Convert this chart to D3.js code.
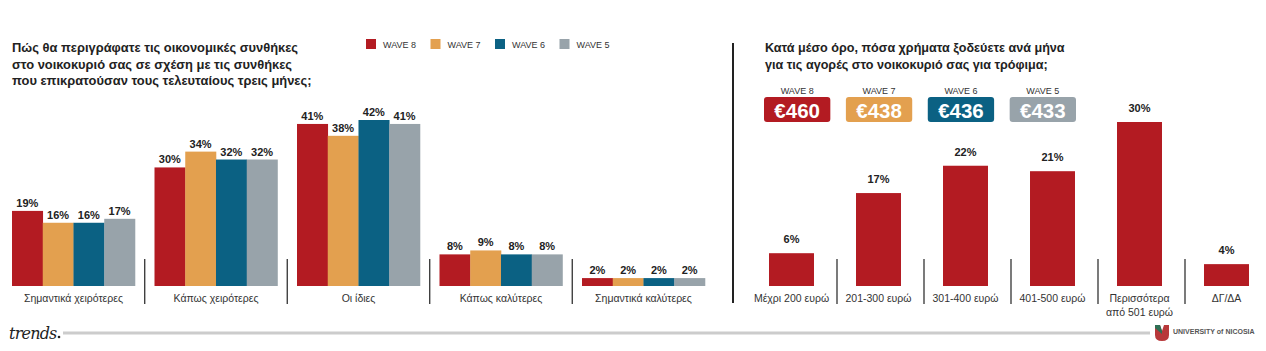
<!DOCTYPE html>
<html><head><meta charset="utf-8">
<script src="https://cdn.jsdelivr.net/npm/d3@7"></script>
<style>
html,body{margin:0;padding:0;background:#fff;}
svg{display:block;font-family:"Liberation Sans",Arial,sans-serif;}
</style></head>
<body>
<svg id="c" width="1266" height="351"></svg>
<script>
// ---- data ----
const leftTitle = ["Πώς θα περιγράφατε τις οικονομικές συνθήκες","στο νοικοκυριό σας σε σχέση με τις συνθήκες","που επικρατούσαν τους τελευταίους τρεις μήνες;"];
const rightTitle = ["Κατά μέσο όρο, πόσα χρήματα ξοδεύετε ανά μήνα","για τις αγορές στο νοικοκυριό σας για τρόφιμα;"];
const waves = ["WAVE 8","WAVE 7","WAVE 6","WAVE 5"];
const waveColors = ["#B31B22","#E3A04F","#0B6183","#98A3AA"];
const conditionCats = ["Σημαντικά χειρότερες","Κάπως χειρότερες","Οι ίδιες","Κάπως καλύτερες","Σημαντικά καλύτερες"];
const wave8 = [19,30,41,8,2];
const wave7 = [16,34,38,9,2];
const wave6 = [16,32,42,8,2];
const wave5 = [17,32,41,8,2];
const avgSpend = [460,438,436,433];
const spendCats = [["Μέχρι 200 ευρώ"],["201-300 ευρώ"],["301-400 ευρώ"],["401-500 ευρώ"],["Περισσότερα","από 501 ευρώ"],["ΔΓ/ΔΑ"]];
const spendValues = [6,17,22,21,30,4];

const svg = d3.select("#c");
const series = [wave8, wave7, wave6, wave5];
const baseY = 286;

// ---- titles ----
svg.append("g").selectAll("text").data(leftTitle).join("text")
  .attr("x",12).attr("y",(d,i)=>52+i*16.5)
  .attr("font-size",12.9).attr("font-weight","bold").attr("fill","#222").text(d=>d);
svg.append("g").selectAll("text").data(rightTitle).join("text")
  .attr("x",765).attr("y",(d,i)=>52+i*16.5)
  .attr("font-size",12.6).attr("font-weight","bold").attr("fill","#222").text(d=>d);

// ---- legend ----
const lx = d3.scaleBand().domain(waves).range([366,624]);
const lg = svg.append("g").selectAll("g").data(waves).join("g")
  .attr("transform",d=>`translate(${lx(d)},39)`);
lg.append("rect").attr("width",10).attr("height",10).attr("fill",(d,i)=>waveColors[i]);
lg.append("text").attr("x",17).attr("y",9).attr("font-size",9).attr("fill","#333").text(d=>d);

// ---- left chart ----
const x0 = d3.scaleBand().domain(conditionCats).range([2.24,714.74]).paddingInner(0.137).paddingOuter(0.0685);
const x1 = d3.scaleBand().domain(d3.range(4)).range([0,x0.bandwidth()]);
const yL = d3.scaleLinear().domain([0,42]).range([baseY,120]);
const gL = svg.append("g");
conditionCats.forEach((c,ci)=>{
  const g = gL.append("g").attr("transform",`translate(${x0(c)},0)`);
  g.selectAll("rect").data(series.map(s=>s[ci])).join("rect")
    .attr("x",(d,i)=>x1(i)).attr("width",x1.bandwidth()+0.3)
    .attr("y",d=>yL(d)).attr("height",d=>baseY-yL(d))
    .attr("fill",(d,i)=>waveColors[i]);
  g.selectAll("text.v").data(series.map(s=>s[ci])).join("text").attr("class","v")
    .attr("x",(d,i)=>x1(i)+x1.bandwidth()/2).attr("y",d=>yL(d)-4)
    .attr("text-anchor","middle").attr("font-size",11).attr("font-weight","bold").attr("fill","#222")
    .text(d=>d+"%");
  g.append("text").attr("x",x0.bandwidth()/2).attr("y",302).attr("text-anchor","middle")
    .attr("font-size",10.5).attr("fill","#333").text(c);
});
gL.selectAll("line.sep").data(conditionCats.slice(1)).join("line").attr("class","sep")
  .attr("x1",d=>x0(d)-x0.step()*x0.paddingInner()/2).attr("x2",d=>x0(d)-x0.step()*x0.paddingInner()/2)
  .attr("y1",259).attr("y2",304).attr("stroke","#222").attr("stroke-width",1.2);

// ---- divider ----
svg.append("line").attr("x1",733).attr("x2",733).attr("y1",43).attr("y2",303).attr("stroke","#222").attr("stroke-width",2);

// ---- badges ----
const bx = d3.scaleBand().domain(waves).range([764,1076]).paddingInner(0.19);
const bg = svg.append("g").selectAll("g").data(waves).join("g")
  .attr("transform",d=>`translate(${bx(d)},0)`);
bg.append("text").attr("x",bx.bandwidth()/2).attr("y",94).attr("text-anchor","middle")
  .attr("font-size",9).attr("fill","#333").text(d=>d);
bg.append("rect").attr("y",97).attr("width",bx.bandwidth()).attr("height",25).attr("rx",3)
  .attr("fill",(d,i)=>waveColors[i]);
bg.append("text").attr("x",bx.bandwidth()/2).attr("y",117.5).attr("text-anchor","middle")
  .attr("font-size",20.5).attr("font-weight","bold").attr("fill","#fff").text((d,i)=>"€"+avgSpend[i]);

// ---- right chart ----
const spendKeys = spendCats.map(d=>d.join(" "));
const xR = d3.scaleBand().domain(spendKeys).range([748,1270]).paddingInner(0.483).paddingOuter(0.2415);
const yR = d3.scaleLinear().domain([0,30]).range([baseY,122]);
const gR = svg.append("g");
gR.selectAll("rect").data(spendValues).join("rect")
  .attr("x",(d,i)=>xR(spendKeys[i])).attr("width",xR.bandwidth())
  .attr("y",d=>yR(d)).attr("height",d=>baseY-yR(d)).attr("fill",waveColors[0]);
gR.selectAll("text.v").data(spendValues).join("text").attr("class","v")
  .attr("x",(d,i)=>xR(spendKeys[i])+xR.bandwidth()/2).attr("y",d=>yR(d)-10)
  .attr("text-anchor","middle").attr("font-size",11).attr("font-weight","bold").attr("fill","#222")
  .text(d=>d+"%");
spendCats.forEach((lines,i)=>{
  gR.append("g").selectAll("text").data(lines).join("text")
    .attr("x",xR(spendKeys[i])+xR.bandwidth()/2).attr("y",(d,j)=>302+j*13.5)
    .attr("text-anchor","middle").attr("font-size",10.5).attr("fill","#333").text(d=>d);
});
gR.selectAll("line.sep").data(spendKeys.slice(1)).join("line").attr("class","sep")
  .attr("x1",d=>xR(d)-xR.step()*xR.paddingInner()/2+2).attr("x2",d=>xR(d)-xR.step()*xR.paddingInner()/2+2)
  .attr("y1",259).attr("y2",304).attr("stroke","#222").attr("stroke-width",1.2);

// ---- footer ----
svg.append("text").attr("x",9).attr("y",339).attr("font-family","'DejaVu Serif','Liberation Serif',serif")
  .attr("font-style","italic").attr("font-size",16).attr("letter-spacing",-0.8).attr("fill","#222").text("trends");
svg.append("circle").attr("cx",59).attr("cy",337).attr("r",1.3).attr("fill","#222");
svg.append("line").attr("x1",63).attr("x2",1150).attr("y1",333).attr("y2",333).attr("stroke","#ccc").attr("stroke-width",3);
const logo = svg.append("g").attr("transform","translate(1155,325)");
logo.append("path").attr("d","M0,0 L5,0 L7,6 L9,0 L14,0 L14,10 Q14,16 7,16 Q0,16 0,10 Z").attr("fill","#B8383A");
logo.append("path").attr("d","M0,0 L5,0 L7,6 L7,9 L0,3 Z").attr("fill","#2f6f55");
logo.append("text").attr("x",18).attr("y",9).attr("font-size",7).attr("font-weight","bold").attr("fill","#555").text("UNIVERSITY of NICOSIA");
</script>
</body></html>
